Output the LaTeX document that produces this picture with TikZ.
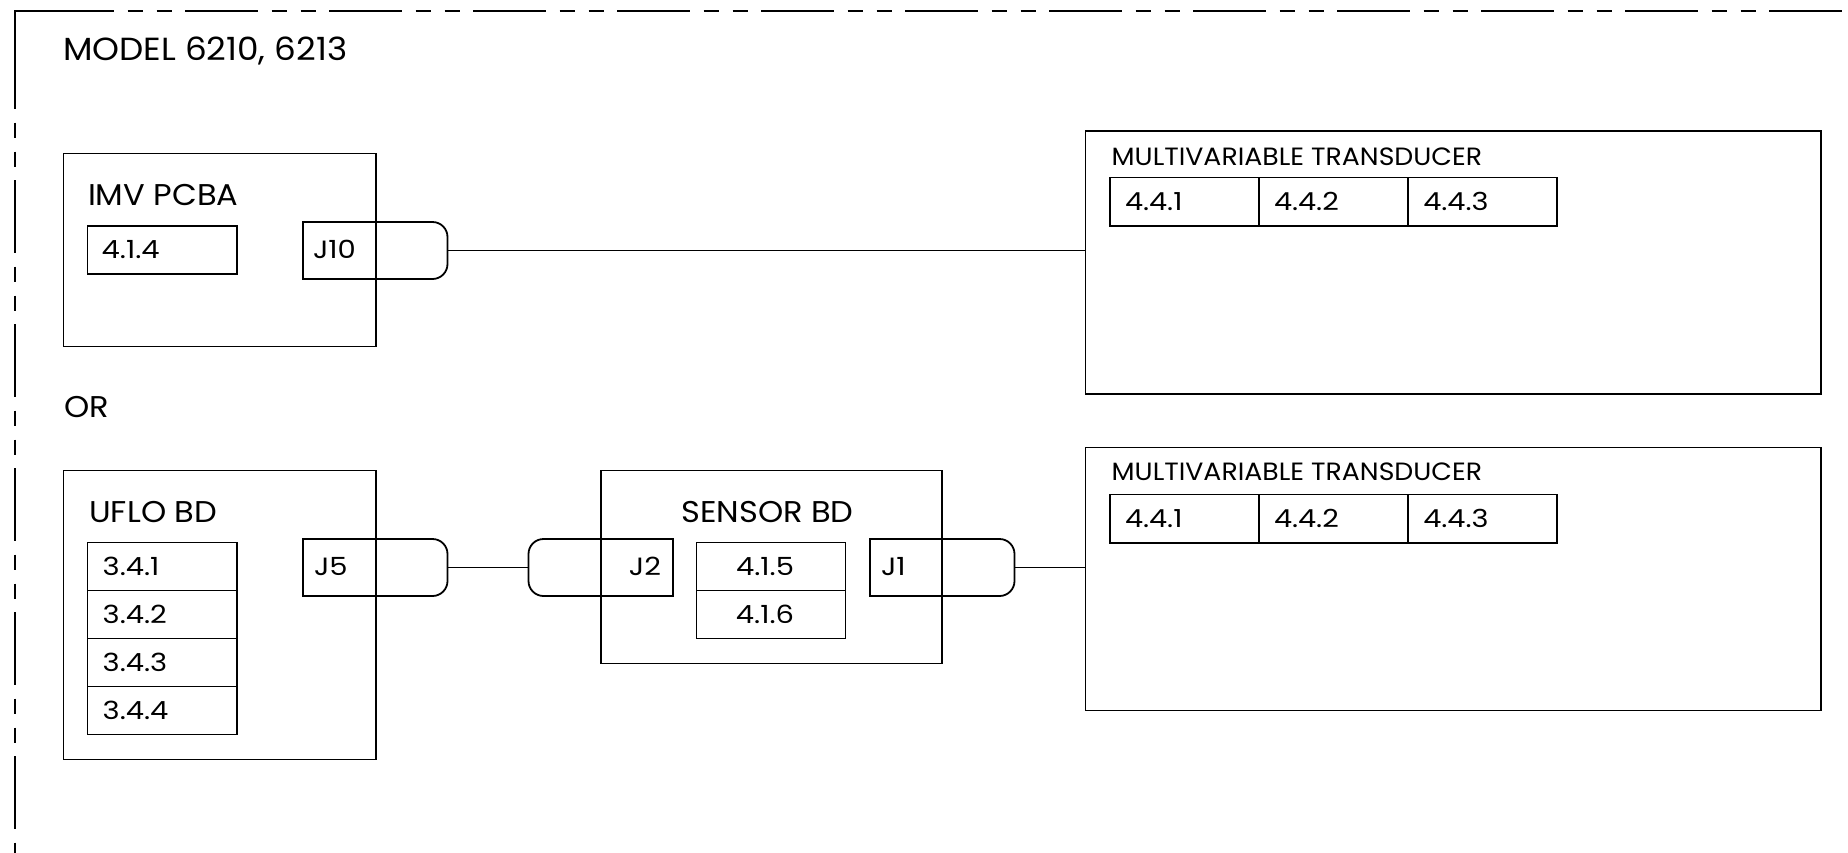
\documentclass[tikz,border=0pt]{standalone}
\usepackage{fontspec}
\setmainfont{Poppins}[FakeStretch=1.07]
\newfontfamily\numfont{Poppins}[FakeStretch=1.16]
\newcommand\fsz[1]{\fontsize{#1}{#1}\selectfont}
\begin{document}
\begin{tikzpicture}[x=1pt,y=-1pt,line width=1.8pt,
  box/.style={draw,anchor=north west,inner sep=0pt,outer sep=0pt},
  conn/.style={anchor=north west,inner sep=0pt,outer sep=0pt,minimum width=144.5pt,minimum height=57pt},
  lbl/.style={anchor=base west,inner sep=0pt,outer sep=0pt},
  lblc/.style={anchor=base,inner sep=0pt,outer sep=0pt},
  lble/.style={anchor=base east,inner sep=0pt,outer sep=0pt},
  big/.style={font=\fsz{32}},
  title/.style={font=\fsz{30}},
  mid/.style={font=\fsz{25}},
  num/.style={font=\numfont\fsz{25}},
  snum/.style={font=\numfont\fsz{24.8}},
  border/.style={dash pattern=on 73pt off 13.5pt on 15.5pt off 13.5pt on 15pt off 13.5pt},
  rnd/.style={rounded corners=15pt}]
\useasboundingbox (0,0) rectangle (1848,852);
\fill[white] (0,0) rectangle (1848,852);

% dashed border
\coordinate (cA) at (15,36);
\coordinate (cB) at (15,10.7);
\coordinate (cC) at (41,10.7);
\coordinate (cD) at (15,860);
\coordinate (cE) at (1860,10.7);
\draw (cA) -- (cB) -- (cC);
\draw[border] (cA) -- (cD);
\draw[border] (cC) -- (cE);

\node[lbl,big] (model) at (63,60) {MODEL 6210, 6213};
\node[lbl,title] (or) at (64,417) {OR};

% IMV PCBA
\node[box,minimum width=312.5pt,minimum height=193pt] (imv) at (63.5,153.5) {};
\node[lbl,title] (imvt) at (88,205.7) {IMV PCBA};
\node[box,minimum width=149.5pt,minimum height=48pt] (b414) at (87.5,226) {};
\node[lbl,num] (t414) at (101.7,258.3) {4.1.4};
\node[conn] (J10) at (303,222) {};
\draw[rnd] (J10.north) -- (J10.north east) -- (J10.south east) -- (J10.south);
\draw (J10.north) -- (J10.north west) -- (J10.south west) -- (J10.south);
\node[lbl,num] (tJ10) at (313,258.3) {J10};

% UFLO BD
\node[box,minimum width=312.5pt,minimum height=289pt] (uflo) at (63.5,470.5) {};
\node[lbl,title] (uflot) at (89.3,522.7) {UFLO BD};
\node[box,minimum width=149.5pt,minimum height=48pt] (b341) at (87.5,542.5) {};
\node[box,minimum width=149.5pt,minimum height=48pt] (b342) at (87.5,590.5) {};
\node[box,minimum width=149.5pt,minimum height=48pt] (b343) at (87.5,638.5) {};
\node[box,minimum width=149.5pt,minimum height=48pt] (b344) at (87.5,686.5) {};
\node[lbl,num] (t341) at (102.7,575.7) {3.4.1};
\node[lbl,num] (t342) at (102.7,623.5) {3.4.2};
\node[lbl,num] (t343) at (102.7,671.5) {3.4.3};
\node[lbl,num] (t344) at (102.7,719.3) {3.4.4};
\node[conn] (J5) at (303,539) {};
\draw[rnd] (J5.north) -- (J5.north east) -- (J5.south east) -- (J5.south);
\draw (J5.north) -- (J5.north west) -- (J5.south west) -- (J5.south);
\node[lbl,num] (tJ5) at (314,575.7) {J5};

% SENSOR BD
\node[box,minimum width=341pt,minimum height=193pt] (sens) at (601,470.5) {};
\node[lblc,title] (senst) at (767.5,522.7) {SENSOR BD};
\node[box,minimum width=149pt,minimum height=48pt] (b415) at (696.5,542.5) {};
\node[box,minimum width=149pt,minimum height=48pt] (b416) at (696.5,590.5) {};
\node[lblc,num] (t415) at (765,575.7) {4.1.5};
\node[lblc,num] (t416) at (765,623.5) {4.1.6};
\node[conn] (J2) at (528.5,539) {};
\draw[rnd] (J2.north) -- (J2.north west) -- (J2.south west) -- (J2.south);
\draw (J2.north) -- (J2.north east) -- (J2.south east) -- (J2.south);
\node[lble,num] (tJ2) at (661,575.7) {J2};
\node[conn] (J1) at (870,539) {};
\draw[rnd] (J1.north) -- (J1.north east) -- (J1.south east) -- (J1.south);
\draw (J1.north) -- (J1.north west) -- (J1.south west) -- (J1.south);
\node[lbl,num] (tJ1) at (881,575.7) {J1};

% Transducer 1
\node[box,minimum width=735.5pt,minimum height=263pt] (T1) at (1085.5,130.8) {};
\node[lbl,mid] (T1t) at (1111.7,165) {MULTIVARIABLE TRANSDUCER};
\node[box,minimum width=149pt,minimum height=48.5pt] (a441) at (1110,177.5) {};
\node[box,minimum width=148.7pt,minimum height=48.5pt] (a442) at (1259,177.5) {};
\node[box,minimum width=149.3pt,minimum height=48.5pt] (a443) at (1407.7,177.5) {};
\node[lbl,snum] (ta441) at (1125,210.7) {4.4.1};
\node[lbl,snum] (ta442) at (1274,210.7) {4.4.2};
\node[lbl,snum] (ta443) at (1423.3,210.7) {4.4.3};

% Transducer 2
\node[box,minimum width=735.5pt,minimum height=263pt] (T2) at (1085.5,447.5) {};
\node[lbl,mid] (T2t) at (1111.7,480.7) {MULTIVARIABLE TRANSDUCER};
\node[box,minimum width=149pt,minimum height=48.5pt] (c441) at (1110,494.5) {};
\node[box,minimum width=148.7pt,minimum height=48.5pt] (c442) at (1259,494.5) {};
\node[box,minimum width=149.3pt,minimum height=48.5pt] (c443) at (1407.7,494.5) {};
\node[lbl,snum] (tc441) at (1125,527.3) {4.4.1};
\node[lbl,snum] (tc442) at (1274,527.3) {4.4.2};
\node[lbl,snum] (tc443) at (1423.3,527.3) {4.4.3};

% wires
\draw (J10.east) -- (J10.east -| T1.west);
\draw (J5.east) -- (J2.west);
\draw (J1.east) -- (J1.east -| T2.west);
\end{tikzpicture}
\end{document}
